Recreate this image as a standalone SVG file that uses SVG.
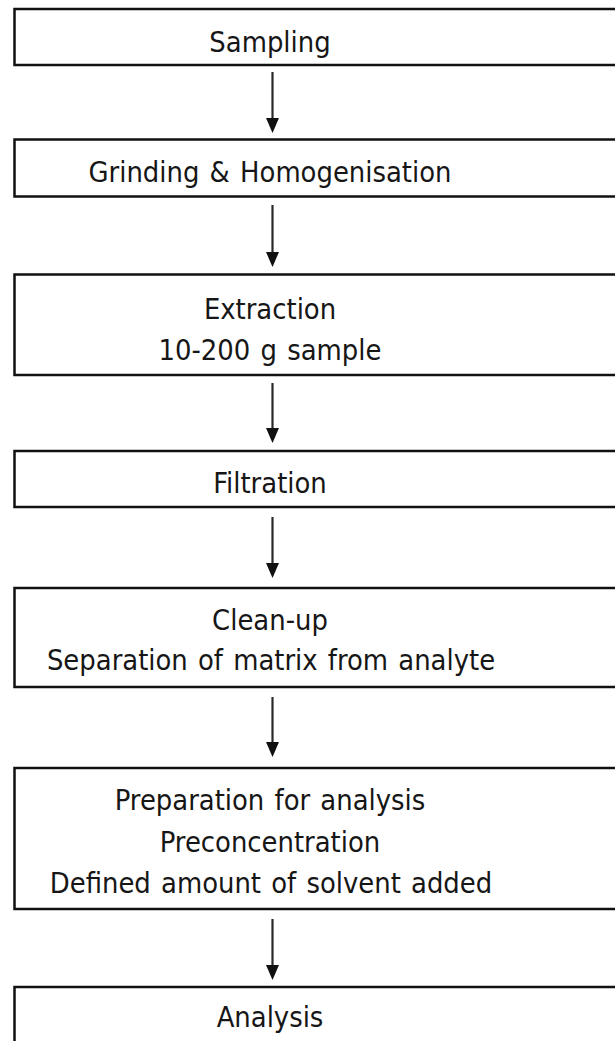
<svg xmlns="http://www.w3.org/2000/svg" width="615" height="1041" viewBox="0 0 615 1041">
  <style>
    .box { fill: #ffffff; stroke: #111111; stroke-width: 2.5; }
    .label { font-family: "DejaVu Sans Condensed", "DejaVu Sans", Verdana, sans-serif; font-stretch: condensed; font-size: 28.8px; word-spacing: 2px; fill: #161616; text-anchor: middle; }
    .flow { stroke: #2a2a2a; stroke-width: 2.2; fill: none; marker-end: url(#head); }
  </style>
  <defs>
    <!-- filled triangular head; tip lies 8px past the end of the line -->
    <marker id="head" viewBox="0 0 15 13" refX="7" refY="6.5" markerWidth="15" markerHeight="13" markerUnits="userSpaceOnUse" orient="auto">
      <path d="M0,0 L15,6.5 L0,13 Z" fill="#111111"/>
    </marker>
  </defs>
  <rect width="615" height="1041" fill="#ffffff"/>

  <g id="sampling">
    <rect class="box" x="14.5" y="9" width="640" height="56"/>
    <text class="label" x="270" y="52">Sampling</text>
  </g>
  <g id="grinding">
    <rect class="box" x="14.5" y="139.5" width="640" height="57"/>
    <text class="label" x="270" y="182">Grinding &amp; Homogenisation</text>
  </g>
  <g id="extraction">
    <rect class="box" x="14.5" y="274.5" width="640" height="100.5"/>
    <text class="label" x="270" y="319">Extraction</text>
    <text class="label" x="270" y="360">10-200 g sample</text>
  </g>
  <g id="filtration">
    <rect class="box" x="14.5" y="451" width="640" height="56"/>
    <text class="label" x="270" y="493">Filtration</text>
  </g>
  <g id="cleanup">
    <rect class="box" x="14.5" y="588" width="640" height="99"/>
    <text class="label" x="270" y="630">Clean-up</text>
    <text class="label" x="271" y="670">Separation of matrix from analyte</text>
  </g>
  <g id="preparation">
    <rect class="box" x="14.5" y="768" width="640" height="141"/>
    <text class="label" x="270" y="810">Preparation for analysis</text>
    <text class="label" x="270" y="852">Preconcentration</text>
    <text class="label" x="271" y="893">Defined amount of solvent added</text>
  </g>
  <g id="analysis">
    <rect class="box" x="14.5" y="987" width="640" height="80"/>
    <text class="label" x="270" y="1027">Analysis</text>
  </g>

  <g id="connectors">
    <path class="flow" d="M272.5,72 V125"/>
    <path class="flow" d="M272.5,205 V259"/>
    <path class="flow" d="M272.5,383 V435"/>
    <path class="flow" d="M272.5,517 V570"/>
    <path class="flow" d="M272.5,697 V749"/>
    <path class="flow" d="M272.5,919 V972"/>
  </g>
</svg>
